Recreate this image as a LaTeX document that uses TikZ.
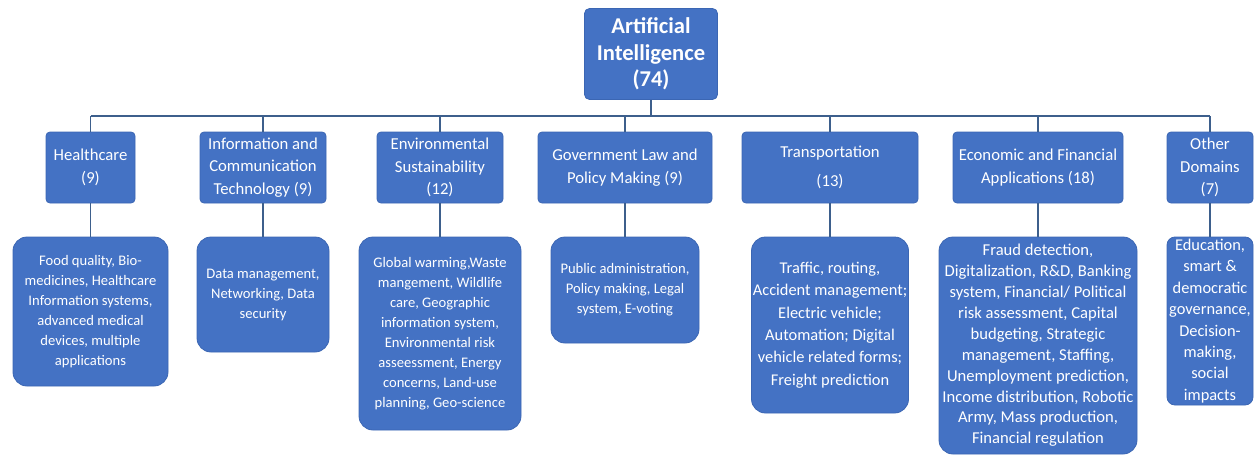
\documentclass[tikz,border=0pt]{standalone}
\usepackage{fontspec}
\setmainfont{Carlito}
\begin{document}
\begin{tikzpicture}[x=1pt,y=-1pt,
  box/.style={fill=boxblue,draw=boxedge,line width=0.8pt,text=white,align=center,inner sep=0pt},
  topbox/.style={box,rounded corners=5pt,minimum width=133pt,minimum height=91pt,
    font=\fontsize{22.6}{26.7}\selectfont\bfseries},
  catbox/.style={box,rounded corners=4pt,minimum height=71pt,
    font=\fontsize{16.7}{22.5}\selectfont},
  itembox/.style={box,rounded corners=14pt,
    font=\fontsize{14.6}{20}\selectfont},
  link/.style={draw=linkblue,line width=1.6pt}]
\definecolor{boxblue}{HTML}{4472C4}
\definecolor{boxedge}{HTML}{3B66B3}
\definecolor{linkblue}{HTML}{3D5F8C}
\useasboundingbox (0,0) rectangle (1254,455);

% root
\node[topbox] (ai) at (651,54) {Artificial\\Intelligence\\(74)};

% domain boxes
\node[catbox,minimum width=89pt]  (hc)  at (90.5,167.5) {Healthcare\\(9)};
\node[catbox,minimum width=126pt] (ict) at (263,167.5) {Information and\\Communication\\Technology (9)};
\node[catbox,minimum width=126pt] (env) at (440,167.5) {Environmental\\Sustainability\\(12)};
\node[catbox,minimum width=174pt] (gov) at (625,167.5) {Government Law and\\Policy Making (9)};
\node[catbox,minimum width=176pt] (tr)  at (830,167.5) {Transportation\\[7pt](13)};
\node[catbox,minimum width=170pt] (ec)  at (1038,167.5) {Economic and Financial\\Applications (18)};
\node[catbox,minimum width=86pt]  (ot)  at (1210,167.5) {Other\\Domains\\(7)};

% application boxes
\node[itembox,minimum width=155pt,minimum height=149pt] (hcd) at (90.5,311.5)
  {Food quality, Bio-\\medicines, Healthcare\\Information systems,\\advanced medical\\devices, multiple\\applications};
\node[itembox,minimum width=132pt,minimum height=115pt] (ictd) at (263,294.5)
  {Data management,\\Networking, Data\\security};
\node[itembox,minimum width=162pt,minimum height=193pt] (envd) at (440,333.5)
  {Global warming,Waste\\mangement, Wildlife\\care, Geographic\\information system,\\Environmental risk\\asseessment, Energy\\concerns, Land-use\\planning, Geo-science};
\node[itembox,minimum width=148pt,minimum height=106pt] (govd) at (625,290)
  {Public administration,\\Policy making, Legal\\system, E-voting};
\node[itembox,minimum width=157pt,minimum height=176pt,
  font=\fontsize{16.4}{22.4}\selectfont] (trd) at (830,325)
  {Traffic, routing,\\Accident management;\\Electric vehicle;\\Automation; Digital\\vehicle related forms;\\Freight prediction};
\node[itembox,minimum width=198pt,minimum height=217pt,
  font=\fontsize{16.6}{20.9}\selectfont] (ecd) at (1038,345.5)
  {Fraud detection,\\Digitalization, R\&D, Banking\\system, Financial/ Political\\risk assessment, Capital\\budgeting, Strategic\\management, Staffing,\\Unemployment prediction,\\Income distribution, Robotic\\Army,  Mass production,\\Financial regulation};
\node[itembox,rounded corners=8pt,minimum width=86pt,minimum height=168pt,
  font=\fontsize{16.4}{21.4}\selectfont] (otd) at (1210,321)
  {Education,\\smart \&\\democratic\\governance,\\Decision-\\making,\\social\\impacts};

% connectors
\coordinate (bar) at (651,116);
\draw[link] (ai.south) -- (bar);
\draw[link] (hc.north |- bar) -- (ot.north |- bar);
\foreach \n in {hc,ict,env,gov,tr,ec,ot}{
  \draw[link] (\n.north |- bar) -- (\n.north);
  \draw[link] (\n.south) -- (\n.south |- \n d.north);
}
\end{tikzpicture}
\end{document}
